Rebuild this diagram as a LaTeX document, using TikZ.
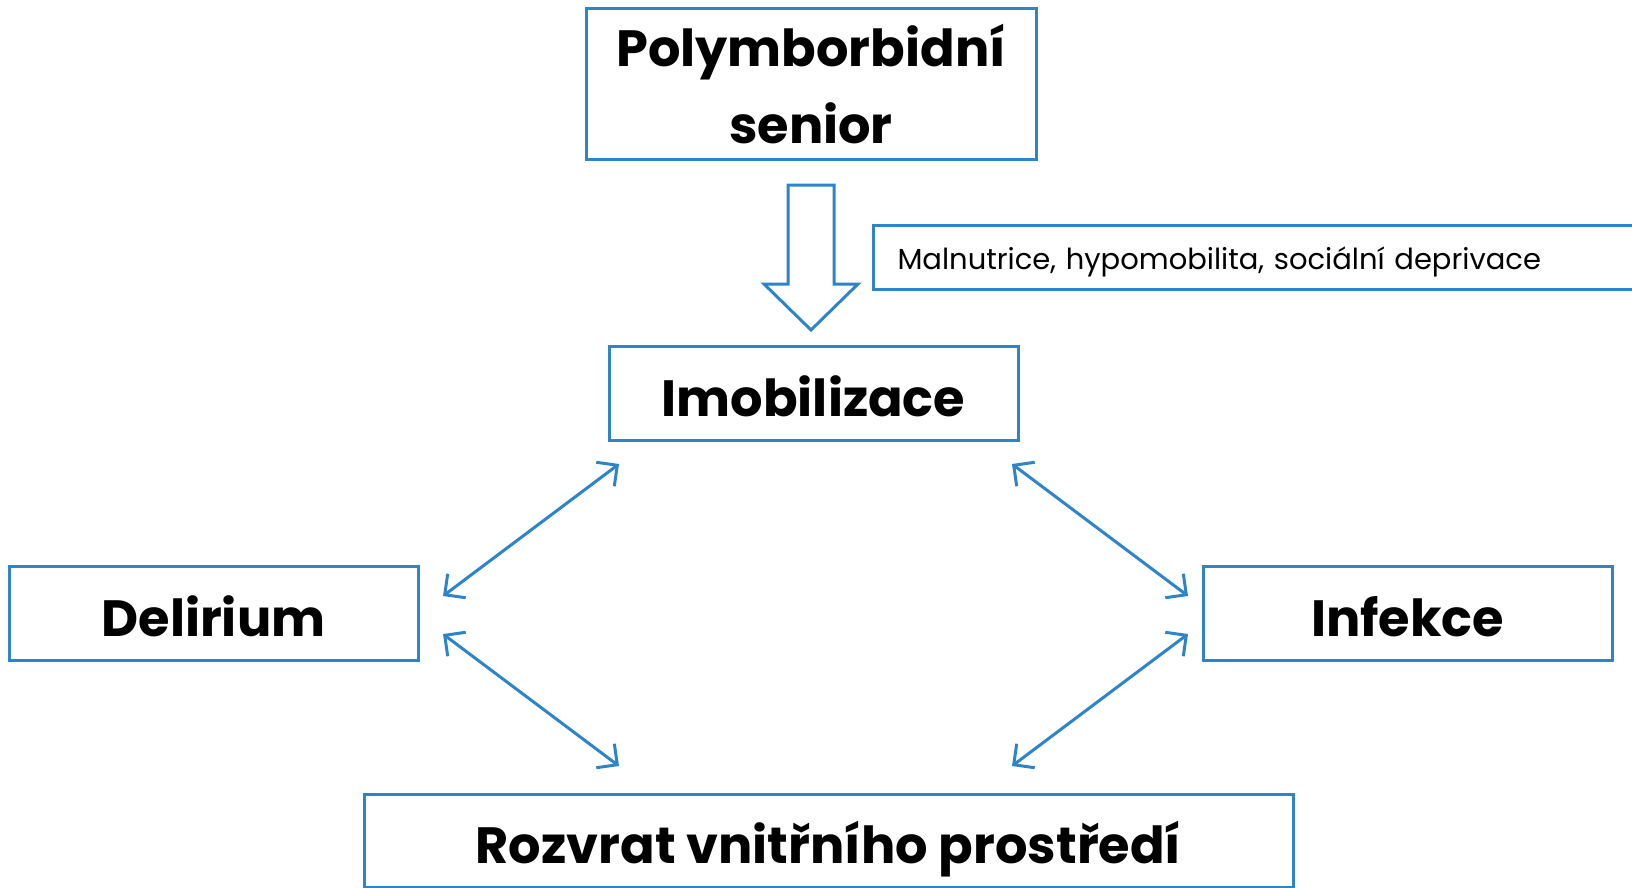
\documentclass[tikz,border=0pt]{standalone}
\usepackage{fontspec}
\setmainfont{Poppins}
\usetikzlibrary{arrows.meta}
\definecolor{boxblue}{RGB}{46,132,200}
\tikzset{
  box/.style={draw=boxblue, line width=3pt, minimum width=409pt, minimum height=94pt, inner sep=0pt,
    text height=46pt, text depth=0pt, font=\fontsize{51}{77}\selectfont\bfseries},
  link/.style={boxblue, line width=3pt, {Straight Barb[length=15pt,width=30pt]}-{Straight Barb[length=15pt,width=30pt]}}
}

\begin{document}
\begin{tikzpicture}[x=1pt,y=-1pt]
  \useasboundingbox (0,0) rectangle (1632,888);

  \node[box, minimum width=450pt, minimum height=150pt, align=center, text height=, text depth=] (senior) at (811,84) {Polymborbidní\\senior};
  \node[box] (imo) at (813.5,393) {Imobilizace};
  \node[box] (del) at (213.5,613) {Delirium};
  \node[box] (inf) at (1407.5,613) {Infekce};
  \node[box, minimum width=929pt, minimum height=93pt] (roz) at (828.5,840.5) {Rozvrat vnitřního prostředí};

  % side note, runs off the page
  \node[draw=boxblue, line width=3pt, anchor=west, minimum height=64pt, text width=770pt, inner xsep=24pt,
    text height=24pt, text depth=0pt, align=left, font=\fontsize{29}{34}\selectfont] (factors) at (872,257)
    {Malnutrice, hypomobilita, sociální deprivace};

  % block arrow
  \draw[boxblue, line width=3pt, fill=white] (788,185) -- (834,185) -- (834,284) -- (858,284)
    -- (811,330) -- (764,284) -- (788,284) -- cycle;

  \coordinate (imoL) at (619,464);
  \coordinate (imoR) at (1012,464);
  \coordinate (delU) at (443,596);
  \coordinate (delD) at (443,634);
  \coordinate (infU) at (1188,596);
  \coordinate (infD) at (1188,634);
  \coordinate (rozL) at (619,766);
  \coordinate (rozR) at (1012,766);

  \draw[link] (delU) -- (imoL);
  \draw[link] (imoR) -- (infU);
  \draw[link] (delD) -- (rozL);
  \draw[link] (infD) -- (rozR);
\end{tikzpicture}
\end{document}
